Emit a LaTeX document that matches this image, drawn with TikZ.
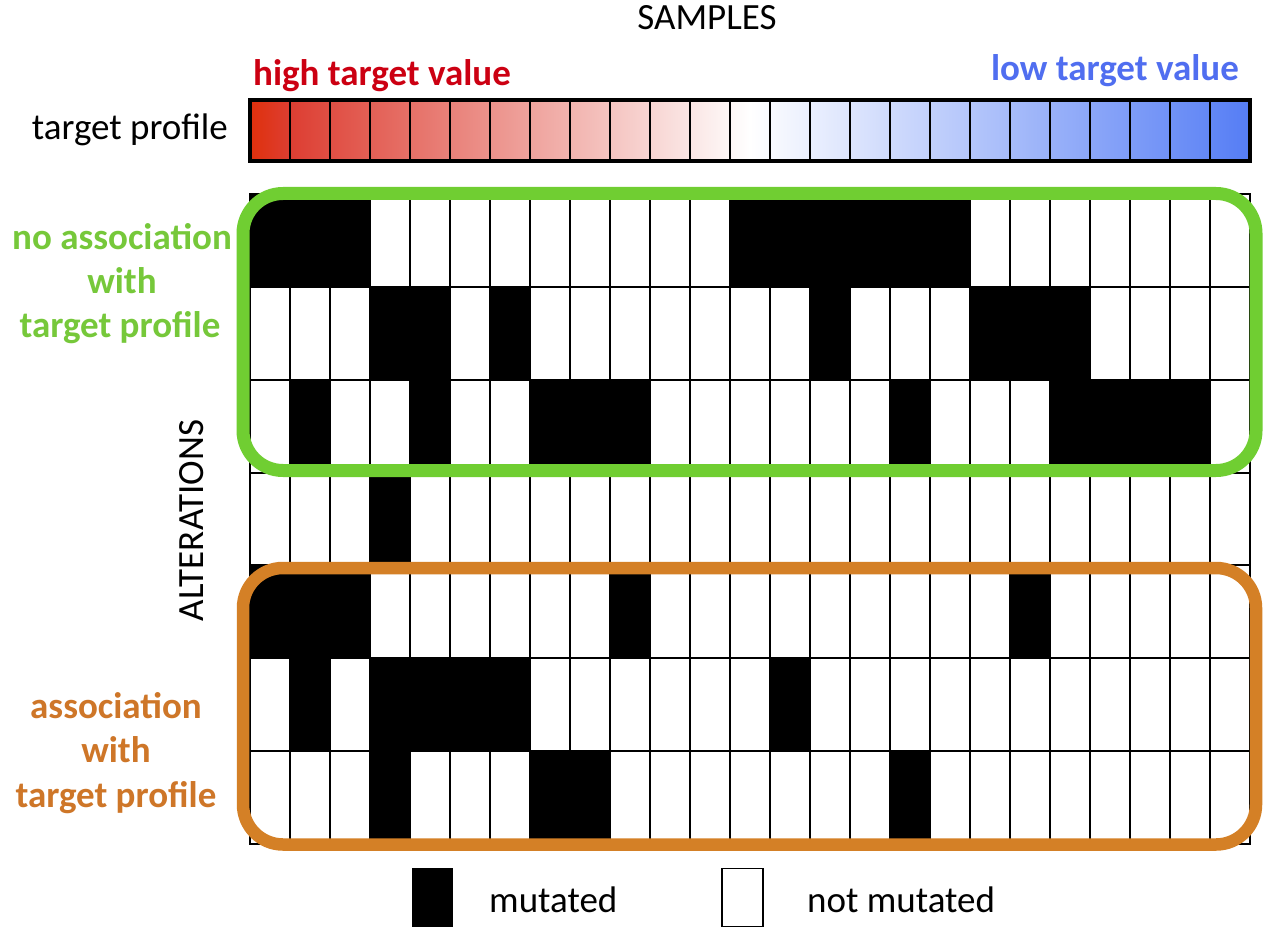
\documentclass[tikz,border=0pt]{standalone}
\usepackage{fontspec}
\setmainfont{Carlito}
\definecolor{pred}{RGB}{223,48,12}
\definecolor{pred1}{RGB}{221,62,50}
\definecolor{pblue}{RGB}{85,125,245}
\definecolor{hitext}{RGB}{204,0,18}
\definecolor{lotext}{RGB}{80,110,240}
\definecolor{gbox}{RGB}{112,206,50}
\definecolor{gtext}{RGB}{118,200,58}
\definecolor{obox}{RGB}{212,128,38}
\definecolor{otext}{RGB}{206,118,40}
\pgfdeclarehorizontalshading{profileshade}{100bp}{color(0bp)=(pred); color(25bp)=(pred); color(27bp)=(pred1); color(50bp)=(white); color(75bp)=(pblue); color(100bp)=(pblue)}
\tikzset{
  txt/.style={inner sep=0pt, font=\fontsize{37}{44}\selectfont},
  btxt/.style={inner sep=0pt, font=\fontsize{37}{44}\selectfont\bfseries},
  gridline/.style={line width=2pt, black},
  barline/.style={line width=2.5pt, black},
  groupbox/.style={line width=13pt, rounded corners=40pt},
}
\begin{document}
\begin{tikzpicture}[x=1pt,y=-1pt]
\useasboundingbox (0,0) rectangle (1268,941);
\fill[white] (0,0) rectangle (1268,941);

% titles
\node[txt, anchor=base] (samples) at (707,30) {SAMPLES};
\node[btxt, anchor=base west, text=hitext] (high) at (253,86) {high target value};
\node[btxt, anchor=base east, text=lotext] (low) at (1239,81) {low target value};
\node[txt, anchor=base east] (tprof) at (228,140) {target profile};

% target profile bar
\shade[shading=profileshade] (250,100) rectangle (1250,161);
\foreach \i in {1,...,24} {
  \draw[barline] ({250+40*\i},100) -- ({250+40*\i},161);
}
\draw[line width=4pt] (250,100) rectangle (1250,161);

% mutation grid
\foreach \r/\cols in {0/{0,1,2,12,13,14,15,16,17},
                      1/{3,4,6,14,18,19,20},
                      2/{1,4,7,8,9,16,20,21,22,23},
                      3/{3},
                      4/{0,1,2,9,19},
                      5/{1,3,4,5,6,13},
                      6/{3,7,8,16}} {
  \foreach \c in \cols {
    \fill[black] ({250+40*\c},{194+\r*650/7}) rectangle ({290+40*\c},{194+(\r+1)*650/7});
  }
}
\foreach \i in {0,...,25} {
  \draw[gridline] ({250+40*\i},194) -- ({250+40*\i},845);
}
\foreach \j in {0,...,7} {
  \draw[gridline] (249,{194+\j*650/7}) -- (1251,{194+\j*650/7});
}

% group boxes
\draw[groupbox, draw=gbox] (243,193.5) rectangle (1256,470.5);
\draw[groupbox, draw=obox, line width=12.5pt] (243,568) rectangle (1256,844.5);

% group labels
\node[btxt, anchor=base, text=gtext] (g1) at (122,250) {no association};
\node[btxt, anchor=base, text=gtext] (g2) at (122,293.5) {with};
\node[btxt, anchor=base, text=gtext] (g3) at (120,337) {target profile};
\node[btxt, anchor=base, text=otext] (o1) at (116,718) {association};
\node[btxt, anchor=base, text=otext] (o2) at (116,762) {with};
\node[btxt, anchor=base, text=otext] (o3) at (116,807) {target profile};

\node[txt, rotate=90, anchor=base] (alt) at (203,520.5) {ALTERATIONS};

% legend
\fill[black] (412,868) rectangle (453,927);
\draw[line width=1.5pt, fill=white] (722,868.5) rectangle (763,926.5);
\node[txt, anchor=base west] (mut) at (489,912) {mutated};
\node[txt, anchor=base west] (notmut) at (807,912) {not mutated};
\end{tikzpicture}
\end{document}
